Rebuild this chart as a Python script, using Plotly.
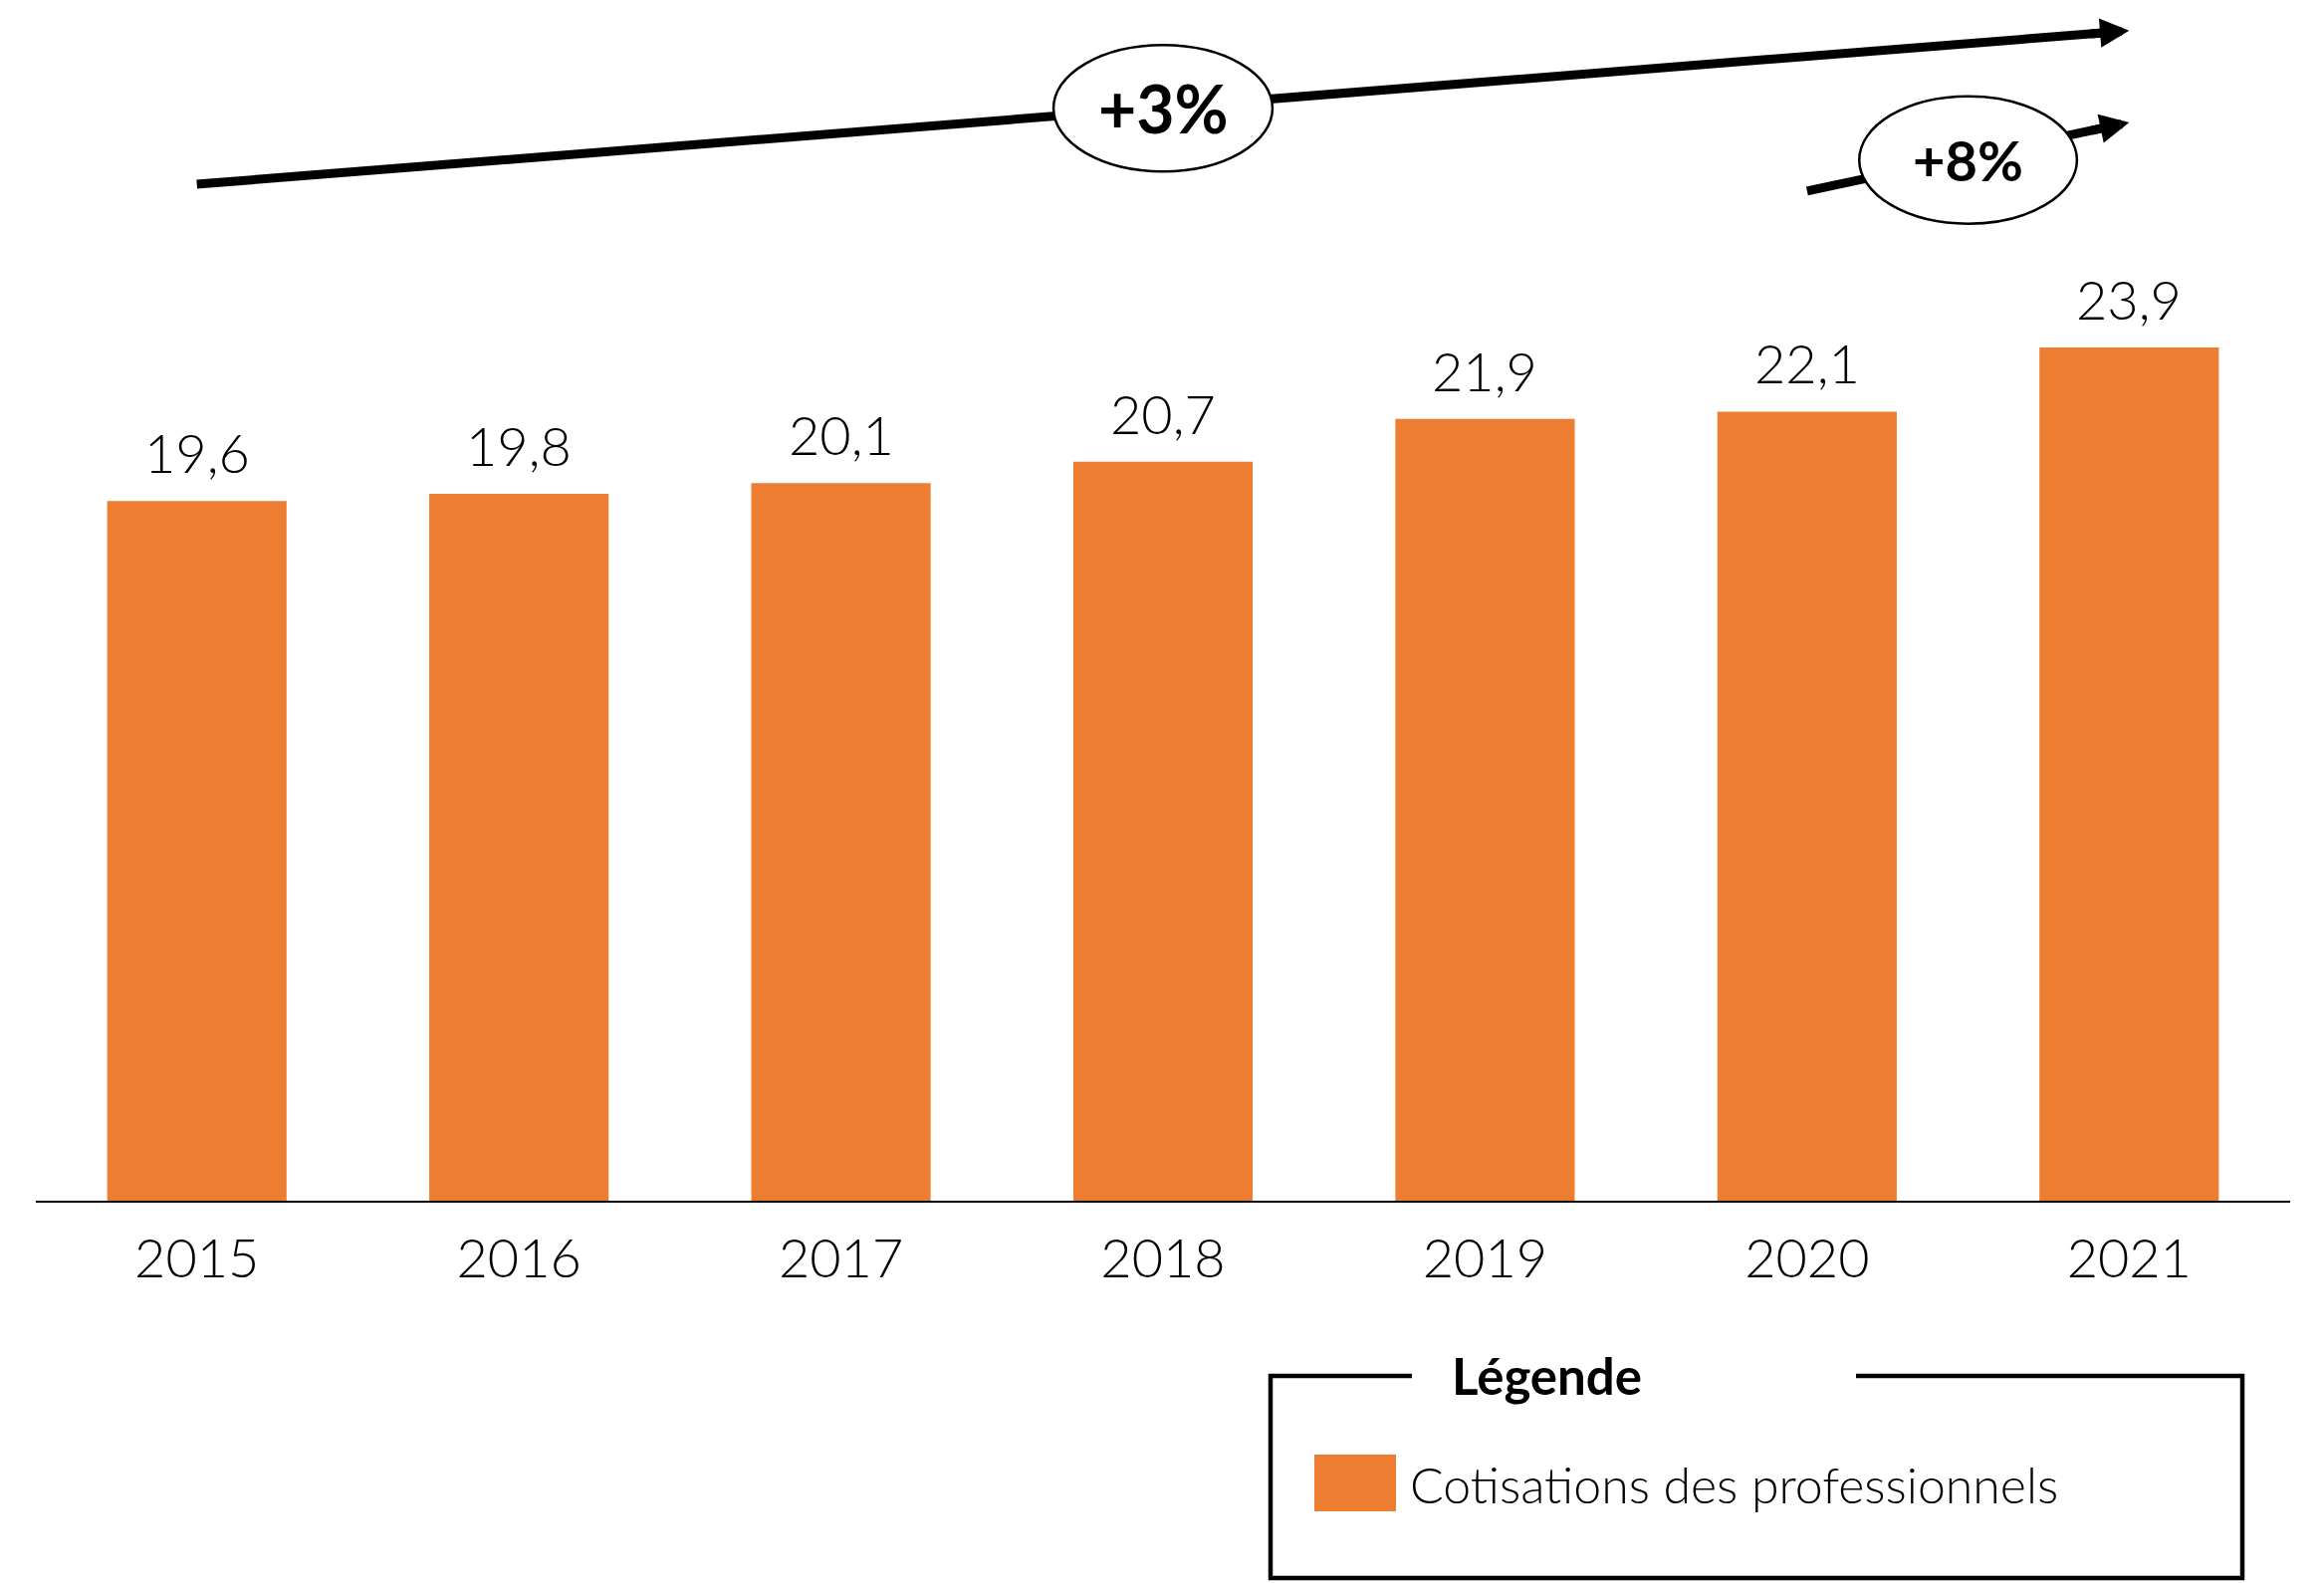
import plotly.graph_objects as go

# ---------------- data ----------------
years = ['2015', '2016', '2017', '2018', '2019', '2020', '2021']
values = [19.6, 19.8, 20.1, 20.7, 21.9, 22.1, 23.9]
series_name = 'Cotisations des professionnels'
legend_title = 'Légende'
growth_labels = ['+3%', '+8%']

# ---------------- layout constants ----------------
OFF = 8                      # page body margin
W, H = 2334 - OFF, 1590 - OFF
ML, MR, MT, MB = 36 - OFF, 34, 0, 384
ORANGE = '#ED7D31'
FONT = 'Lato'
LIGHT = 300

plot_w = W - ML - MR
plot_h = H - MT - MB
px_per_x = plot_w / 7.0
px_per_y = 35.86
YMAX = plot_h / px_per_y


def px_to_paper(px, py):
    """screen pixel -> paper coords"""
    fx, fy = px - OFF, py - OFF
    return (fx - ML) / plot_w, (H - MB - fy) / plot_h


idx = list(range(len(years)))
fmt = [f'{v:.1f}'.replace('.', ',') for v in values]

fig = go.Figure()
fig.add_trace(go.Bar(
    x=idx, y=values, name=series_name, marker=dict(color=ORANGE, line=dict(width=0)),
    showlegend=True,
))

# value labels above bars
for i, v, t in zip(idx, values, fmt):
    fig.add_annotation(x=i, y=v, text=t, showarrow=False, yanchor='bottom', yshift=14,
                       font=dict(family=FONT, size=54, color='#000000', weight=LIGHT))

# growth arrows (tail index, tail y, head index, head y)
arrows = [
    (0, 28.47, 6, 32.77),
    (5, 28.28, 6, 30.20),
]
for (x0, y0, x1, y1) in arrows:
    dxp = (x1 - x0) * px_per_x
    dyp = (y1 - y0) * px_per_y
    L = (dxp ** 2 + dyp ** 2) ** 0.5
    ux, uy = dxp / L, dyp / L
    back = 14
    xe = x1 - back * ux / px_per_x
    ye = y1 - back * uy / px_per_y
    fig.add_trace(go.Scatter(x=[x0, xe], y=[y0, ye], mode='lines',
                             line=dict(color='black', width=9), showlegend=False,
                             hoverinfo='skip'))
    sb = 40
    fig.add_annotation(x=x1, y=y1, ax=x1 - sb * ux / px_per_x, ay=y1 - sb * uy / px_per_y,
                       xref='x', yref='y', axref='x', ayref='y', text='', showarrow=True,
                       arrowhead=2, arrowsize=0.65, arrowwidth=9, arrowcolor='black',
                       standoff=0, startstandoff=0)

# ellipses with growth labels
ellipses = [
    (3.0, 30.60, 0.340, 1.77, growth_labels[0], 66),
    (5.5, 29.15, 0.338, 1.785, growth_labels[1], 56),
]
for (cx, cy, rx, ry, lab, fs) in ellipses:
    fig.add_shape(type='circle', xref='x', yref='y', x0=cx - rx, x1=cx + rx,
                  y0=cy - ry, y1=cy + ry, fillcolor='white',
                  line=dict(color='black', width=2.5), layer='above')
    fig.add_annotation(x=cx, y=cy, text=lab, showarrow=False, xanchor='center',
                       yanchor='middle',
                       font=dict(family=FONT, size=fs, color='black', weight='bold'))

# legend frame with gap for title
fx0, fy0 = px_to_paper(1276, 1382)
fx1, fy1 = px_to_paper(2252, 1585)
gx0, _ = px_to_paper(1418, 1382)
gx1, _ = px_to_paper(1864, 1382)
path = (f'M{gx0},{fy0} L{fx0},{fy0} L{fx0},{fy1} L{fx1},{fy1} L{fx1},{fy0} L{gx1},{fy0}')
fig.add_shape(type='path', xref='paper', yref='paper', path=path,
              line=dict(color='black', width=4.5))
tx, ty = px_to_paper(1553, 1381)
fig.add_annotation(x=tx, y=ty, xref='paper', yref='paper', text=legend_title,
                   showarrow=False, xanchor='center', yanchor='middle',
                   font=dict(family=FONT, size=51, color='black', weight='bold'))
# enlarged legend swatch
sx0, sy0 = px_to_paper(1320, 1461)
sx1, sy1 = px_to_paper(1402, 1518)
fig.add_shape(type='rect', xref='paper', yref='paper', x0=sx0, x1=sx1, y0=sy1, y1=sy0,
              fillcolor=ORANGE, line=dict(width=0))

lx, ly = px_to_paper(1376, 1490)
fig.update_layout(
    width=W, height=H,
    margin=dict(l=ML, r=MR, t=MT, b=MB, pad=0),
    paper_bgcolor='white', plot_bgcolor='white',
    bargap=0.443,
    font=dict(family=FONT, color='black'),
    showlegend=True,
    legend=dict(x=lx, y=ly, xanchor='left', yanchor='middle', bgcolor='rgba(0,0,0,0)',
                borderwidth=0, font=dict(family=FONT, size=50, color='black', weight=LIGHT)),
    xaxis=dict(range=[-0.5, 6.5], tickvals=idx, ticktext=years, showline=True,
               linecolor='black', linewidth=2, ticks='', showgrid=False, zeroline=False,
               tickfont=dict(family=FONT, size=54, color='black', weight=LIGHT),
               ticklabelstandoff=10, fixedrange=True),
    yaxis=dict(range=[0, YMAX], visible=False, showgrid=False, zeroline=False,
               fixedrange=True),
)

fig.write_html('out.html')
